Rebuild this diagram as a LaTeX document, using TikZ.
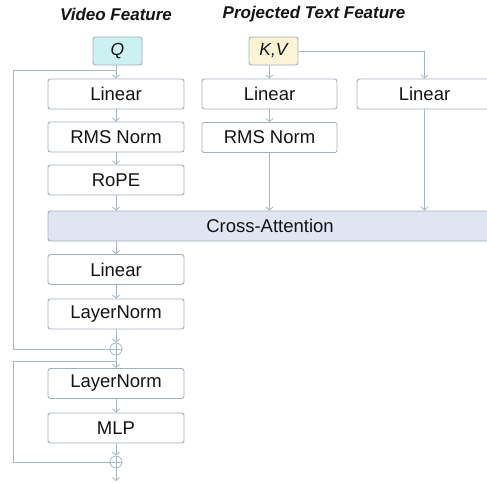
\documentclass[tikz,border=0pt]{standalone}
\usepackage{fontspec}
\setmainfont{Liberation Sans}
\usetikzlibrary{arrows.meta}
\definecolor{lc}{HTML}{A8B5C5}
\definecolor{bc}{HTML}{A3B0C0}
\definecolor{qfill}{HTML}{CCF1F1}
\definecolor{kvfill}{HTML}{FCF4D4}
\definecolor{cafill}{HTML}{E1E4F2}
\definecolor{txt}{HTML}{141414}
\tikzset{
  blk/.style={draw=bc, line width=0.9pt, rounded corners=2.5pt, fill=white, text=txt, minimum height=30pt, inner sep=0pt, font=\fontsize{18.5}{21}\selectfont},
  colL/.style={blk, minimum width=136pt},
  inbox/.style={draw=bc, line width=0.9pt, rounded corners=2.5pt, text=txt, minimum width=49pt, minimum height=28pt, inner sep=0pt, font=\fontsize{17.5}{20}\selectfont\itshape},
  ttl/.style={text=txt, font=\fontsize{17}{20}\selectfont\bfseries\itshape},
  conn/.style={draw=lc, line width=0.8pt},
  arr/.style={conn, -{Straight Barb[length=3pt,width=7pt]}},
  oplus/.style={circle, draw=lc, line width=0.8pt, minimum size=12pt, inner sep=0pt,
    path picture={\draw[lc, line width=0.8pt] (path picture bounding box.north) -- (path picture bounding box.south) (path picture bounding box.west) -- (path picture bounding box.east);}}
}
\begin{document}
\begin{tikzpicture}[x=1pt, y=-1pt]
\useasboundingbox (0,0) rectangle (487,482);
\clip (0,0) rectangle (487,482);
% titles
\node[ttl] (vt) at (116,14) {Video Feature};
\node[ttl] (pt) at (314,14) {Projected Text Feature};
% inputs
\node[inbox, fill=qfill] (q) at (117.5,51) {Q};
\node[inbox, fill=kvfill] (kv) at (273.5,51) {K,V};
% left column
\node[colL] (l1) at (116,94) {Linear};
\node[colL] (r1) at (116,137) {RMS Norm};
\node[colL] (rope) at (116,180) {RoPE};
\node[blk, minimum width=444pt, fill=cafill] (ca) at (270,226) {Cross-Attention};
\node[colL] (l2) at (116,269.5) {Linear};
\node[colL] (ln1) at (116,314) {LayerNorm};
\node[oplus] (p1) at (116,349) {};
\node[colL] (ln2) at (116,383.5) {LayerNorm};
\node[colL] (mlp) at (116,428) {MLP};
\node[oplus] (p2) at (116,462) {};
\coordinate (out) at (116,481);
% middle column
\node[blk, minimum width=135pt] (ml) at (269.5,94) {Linear};
\node[blk, minimum width=135pt, rounded corners=1.5pt] (mr) at (269.5,137.5) {RMS Norm};
% right column
\node[blk, minimum width=135pt] (rl) at (424.5,94) {Linear};
% connectors
\coordinate (qsplit) at (116,70);
\coordinate (s2) at (116,361);
\draw[arr] (q.south -| l1) -- (l1.north);
\draw[arr] (l1) -- (r1);
\draw[arr] (r1) -- (rope);
\draw[arr] (rope) -- (rope |- ca.north);
\draw[arr] (l2 |- ca.south) -- (l2);
\draw[arr] (l2) -- (ln1);
\draw[arr] (ln1) -- (p1);
\draw[arr] (p1) -- (ln2);
\draw[arr] (ln2) -- (mlp);
\draw[arr] (mlp) -- (p2);
\draw[arr] (p2) -- (out);
\draw[arr] (kv.south -| ml) -- (ml.north);
\draw[arr] (ml) -- (mr);
\draw[arr] (mr) -- (mr |- ca.north);
\draw[arr] (kv.east) -| (rl.north);
\draw[arr] (rl) -- (rl |- ca.north);
\draw[conn] (qsplit) -- (13,70) -- (13,349) -- (p1.west);
\draw[conn] (s2) -- (13,361) -- (13,462) -- (p2.west);
\end{tikzpicture}
\end{document}
